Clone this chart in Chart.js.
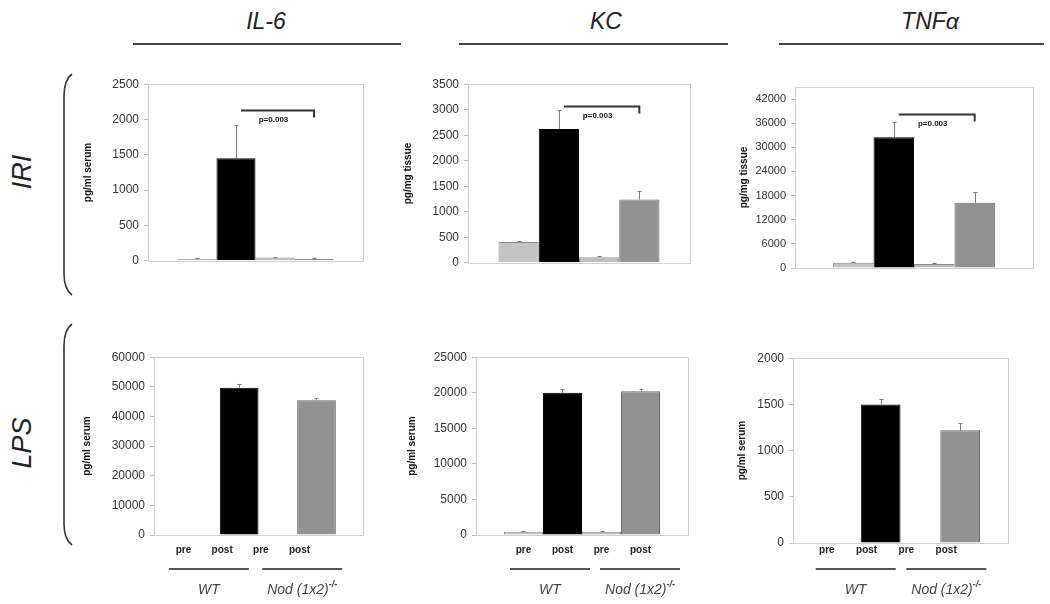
<!DOCTYPE html>
<html><head><meta charset="utf-8">
<script src="https://cdn.jsdelivr.net/npm/chart.js@4.4.1/dist/chart.umd.min.js"></script>
<style>
html,body{margin:0;padding:0;background:#fff;}
#wrap{position:relative;width:1050px;height:604px;overflow:hidden;font-family:"Liberation Sans",Arial,sans-serif;}
canvas{position:absolute;}
.hdr{position:absolute;font-style:italic;font-size:23px;color:#222;transform:translate(-50%,-50%);white-space:nowrap;}
.hl{position:absolute;height:2px;background:#444;}
.row{position:absolute;font-style:italic;font-size:27px;color:#222;transform:translate(-50%,-50%) rotate(-90deg);white-space:nowrap;}
svg{position:absolute;left:0;top:0;}
</style></head><body><div id="wrap">
<svg width="1050" height="604">
<path d="M72,74 Q64,80 64,96 L64,274 Q64,289 72,295" fill="none" stroke="#333" stroke-width="1.6"/>
<path d="M72,324 Q64,330 64,346 L64,524 Q64,539 72,545" fill="none" stroke="#333" stroke-width="1.6"/>
</svg>
<div class="hdr" style="left:266px;top:21px;">IL-6</div>
<div class="hdr" style="left:606px;top:21px;">KC</div>
<div class="hdr" style="left:930px;top:21px;">TNF&alpha;</div>
<div class="hl" style="left:133px;top:43px;width:268px;"></div>
<div class="hl" style="left:459px;top:43px;width:269px;"></div>
<div class="hl" style="left:779px;top:43px;width:265px;"></div>
<div class="row" style="left:22px;top:172px;">IRI</div>
<div class="row" style="left:22px;top:443px;">LPS</div>
</div>
<script>
// ---- data ----
const panelNames = ['IL-6 IRI','KC IRI','TNFa IRI','IL-6 LPS','KC LPS','TNFa LPS'];
const barLabels = ['pre','post','pre','post'];
const groupNames = ['WT','Nod (1x2)'];
const groupSup = ['', '-/-'];
const wtPre   = [25, 410, 1300, 0, 450, 0];
const wtPost  = [1450, 2620, 32500, 49700, 20000, 1500];
const nodPre  = [45, 110, 1000, 0, 450, 0];
const nodPost = [25, 1240, 16200, 45500, 20200, 1220];
const wtPreErr   = [15, 15, 250, 0, 100, 0];
const wtPostErr  = [470, 370, 3900, 1300, 500, 57];
const nodPreErr  = [10, 15, 300, 0, 80, 0];
const nodPostErr = [10, 170, 2700, 600, 300, 75];
const yMax  = [2500, 3500, 45000, 60000, 25000, 2000];
const yStep = [500, 500, 6000, 10000, 5000, 500];
const yTopTick = [2500, 3500, 42000, 60000, 25000, 2000];
const yTitles = ['pg/ml serum','pg/mg tissue','pg/mg tissue','pg/ml serum','pg/ml serum','pg/ml serum'];
const pText  = ['p=0.003','p=0.003','p=0.003', null, null, null];
const pLevel = [2130, 3070, 38400, null, null, null];

// ---- layout (positions/styles) ----
const frames = [ // [left, top, right, bottom, titleX]
  [148, 84, 363, 261, 88],
  [468, 84, 690, 263, 408],
  [795, 87, 1033, 268, 744],
  [154, 357, 363, 535, 87],
  [476, 357, 688, 535, 412],
  [793, 358, 1008, 543, 742]
];
const tickFont = [12, 12, 11, 12, 12, 12];
const catPct = [0.726, 0.725, 0.68, 0.74, 0.736, 0.74];
const labelShift = [-17, 0, -14];
const lineShift = [[-11, 5], [7, 19], [-5, 6]];
const fills = ['#c4c4c4', '#000000', '#bdbdbd', '#929292'];
const borders = ['#8c8c8c', '#000000', '#8c8c8c', '#666666'];
const series = [wtPre, wtPost, nodPre, nodPost];
const errs = [wtPreErr, wtPostErr, nodPreErr, nodPostErr];

const wrap = document.getElementById('wrap');

frames.forEach((f, i) => {
  const [L, T, R, B, tx] = f;
  const bottomRow = i >= 3;
  const cLeft = tx - 6;
  const cTop = T - 12;
  const cW = R + 3 - cLeft;
  const cH = bottomRow ? 604 - cTop : B + 12 - cTop;
  const cv = document.createElement('canvas');
  cv.width = cW; cv.height = cH;
  cv.style.left = cLeft + 'px'; cv.style.top = cTop + 'px';
  cv.style.width = cW + 'px'; cv.style.height = cH + 'px';
  wrap.appendChild(cv);

  const decor = {
    id: 'decor' + i,
    beforeDatasetsDraw(chart) {
      const a = chart.chartArea, ctx = chart.ctx;
      ctx.save();
      ctx.strokeStyle = '#d0d0d0'; ctx.lineWidth = 1;
      ctx.strokeRect(Math.round(a.left) + 0.5, Math.round(a.top) + 0.5,
                     Math.round(a.right - a.left), Math.round(a.bottom - a.top));
      ctx.restore();
    },
    afterDatasetsDraw(chart) {
      const ctx = chart.ctx, ys = chart.scales.y;
      const bars = [0,1,2,3].map(d => chart.getDatasetMeta(d).data[0]);
      ctx.save();
      ctx.strokeStyle = '#7a7a7a'; ctx.lineWidth = 1;
      bars.forEach((b, d) => {
        const v = series[d][i], e = errs[d][i];
        if (!e) return;
        const x = Math.round(b.x) + 0.5;
        const y1 = ys.getPixelForValue(v), y2 = ys.getPixelForValue(v + e);
        ctx.beginPath();
        ctx.moveTo(x, y1); ctx.lineTo(x, y2);
        ctx.moveTo(x - 2, Math.round(y2) + 0.5); ctx.lineTo(x + 2, Math.round(y2) + 0.5);
        ctx.stroke();
      });
      if (pText[i]) {
        const y = Math.round(ys.getPixelForValue(pLevel[i])) + 0.5;
        const x1 = bars[1].x + 5, x2 = bars[3].x;
        ctx.strokeStyle = '#333'; ctx.lineWidth = 2;
        ctx.beginPath();
        ctx.moveTo(x1, y); ctx.lineTo(x2, y); ctx.lineTo(x2, y + 7);
        ctx.stroke();
        ctx.fillStyle = '#111';
        ctx.font = 'bold 8px "Liberation Sans", Arial, sans-serif';
        ctx.textAlign = 'center'; ctx.textBaseline = 'middle';
        ctx.fillText(pText[i], (x1 + x2) / 2 - 4, y + 9);
      }
      if (bottomRow) {
        const col = i - 3;
        ctx.fillStyle = '#222';
        ctx.font = 'bold 10px "Liberation Sans", Arial, sans-serif';
        ctx.textAlign = 'center'; ctx.textBaseline = 'middle';
        bars.forEach((b, d) => ctx.fillText(barLabels[d], b.x + labelShift[col], 550 - cTop));
        ctx.strokeStyle = '#555'; ctx.lineWidth = 2;
        [0, 1].forEach(g => {
          const mid = (bars[2*g].x + bars[2*g+1].x) / 2 + lineShift[col][g];
          const y = 569 - cTop;
          ctx.beginPath(); ctx.moveTo(mid - 40, y); ctx.lineTo(mid + 40, y); ctx.stroke();
          ctx.fillStyle = '#444';
          ctx.font = 'italic 14px "Liberation Sans", Arial, sans-serif';
          const w = ctx.measureText(groupNames[g]).width;
          ctx.font = 'italic bold 9px "Liberation Sans", Arial, sans-serif';
          const ws = groupSup[g] ? ctx.measureText(groupSup[g]).width : 0;
          const start = mid - (w + ws) / 2;
          ctx.textAlign = 'left';
          ctx.font = 'italic 14px "Liberation Sans", Arial, sans-serif';
          ctx.fillText(groupNames[g], start, 590 - cTop);
          if (groupSup[g]) {
            ctx.font = 'italic bold 9px "Liberation Sans", Arial, sans-serif';
            ctx.fillText(groupSup[g], start + w, 585 - cTop);
          }
          ctx.textAlign = 'center';
        });
      }
      ctx.restore();
    }
  };

  new Chart(cv, {
    type: 'bar',
    data: {
      labels: [panelNames[i]],
      datasets: series.map((s, d) => ({
        label: barLabels[d],
        data: [s[i]],
        backgroundColor: fills[d],
        borderColor: borders[d],
        borderWidth: 1,
        barPercentage: 1,
        categoryPercentage: catPct[i]
      }))
    },
    options: {
      responsive: false,
      animation: false,
      devicePixelRatio: 1,
      layout: { padding: { left: 0, top: 12, right: 3, bottom: bottomRow ? 604 - B : 12 } },
      plugins: { legend: { display: false }, tooltip: { enabled: false } },
      scales: {
        x: { display: false },
        y: {
          min: 0, max: yMax[i],
          ticks: {
            color: '#333',
            font: { family: '"Liberation Sans", Arial, sans-serif', size: tickFont[i] },
            padding: 5,
            callback: v => String(v)
          },
          afterBuildTicks: sc => {
            const t = [];
            for (let v = 0; v <= yTopTick[i]; v += yStep[i]) t.push({ value: v });
            sc.ticks = t;
          },
          afterFit: sc => { sc.width = L - cLeft; },
          grid: { drawOnChartArea: false, drawTicks: true, tickLength: 4, color: '#bdbdbd' },
          border: { display: false },
          title: {
            display: true, text: yTitles[i], color: '#111',
            font: { family: '"Liberation Sans", Arial, sans-serif', size: 10, weight: 'bold' },
            padding: { top: 0, bottom: 0 }
          }
        }
      }
    },
    plugins: [decor]
  });
});
</script>
</body></html>
